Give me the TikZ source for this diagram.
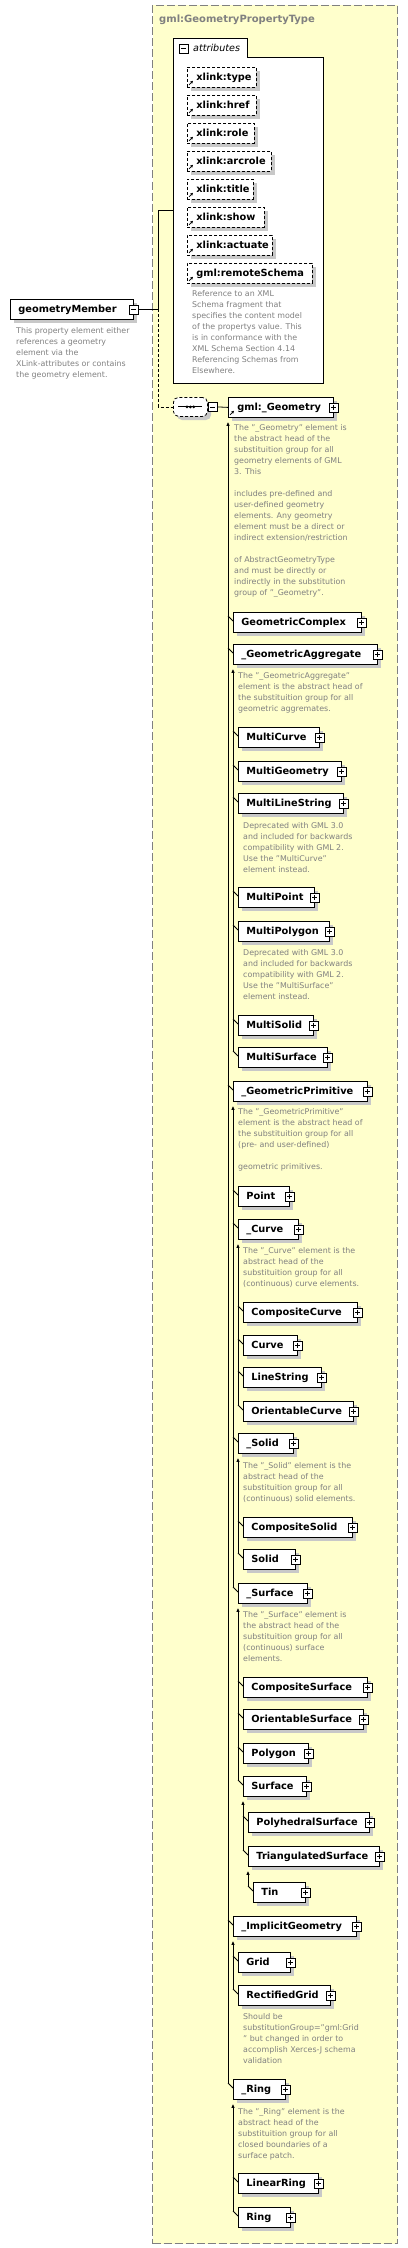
\documentclass[tikz,border=0pt]{standalone}
\usepackage{fontspec}
\setmainfont{DejaVu Sans}
\usetikzlibrary{calc,arrows.meta}
\definecolor{yel}{RGB}{255,255,204}
\definecolor{bord}{RGB}{128,128,128}
\definecolor{annotc}{RGB}{128,128,128}
\definecolor{shad}{RGB}{200,200,200}
\tikzset{
  elem/.style={draw=black, line width=0.8pt, fill=white, anchor=north west, inner xsep=0pt, inner ysep=2pt,
    minimum height=20pt, text height=7.1pt, text depth=0pt,
    font=\fontsize{9.8}{12}\selectfont\bfseries},
  optelem/.style={elem, dash pattern=on 3pt off 2pt},
  pmsq/.style={draw=black, fill=white, minimum size=9pt, inner sep=0pt, line width=0.7pt},
  plus/.style={pmsq, path picture={\draw[line width=0.7pt]
      ([xshift=2pt]path picture bounding box.west) -- ([xshift=-2pt]path picture bounding box.east)
      ([yshift=-2pt]path picture bounding box.north) -- ([yshift=2pt]path picture bounding box.south);}},
  minus/.style={pmsq, path picture={\draw[line width=0.7pt]
      ([xshift=2pt]path picture bounding box.west) -- ([xshift=-2pt]path picture bounding box.east);}},
  conn/.style={draw=black, line width=0.8pt},
  subln/.style={conn, -{Latex[length=4pt,width=3.5pt]}},
  refar/.style={line width=0.7pt, solid, -{Stealth[length=3pt,width=3pt]}},
  annot/.style={anchor=north west, inner sep=0pt, align=left, text=annotc,
    font=\fontsize{7.9}{11}\selectfont},
}
\newcommand\el[6][plus]{%
  \pgfmathsetmacro\elw{#5-#3}%
  \fill[shad] (#3+4,#4+4) rectangle (#5+4,#4+24);
  \node[elem] (#2) at (#3,#4) {\makebox[\elw pt][l]{\hspace{8pt}#6}};
  \node[#1] (#2pm) at (#2.east) {};
}
\newcommand\refarrow[1]{\draw[refar] ($(#1.south west)+(2,-3)$) -- ($(#1.south west)+(6,-7)$);}
\newcommand\att[4]{%
  \pgfmathsetmacro\elw{#3-187}%
  \fill[shad] (191,#2+4) rectangle (#3+4,#2+24);
  \node[optelem] (#1) at (187,#2) {\makebox[\elw pt][l]{\hspace{9pt}#4}};
  \refarrow{#1}
}
\newcommand\ann[4]{\node[annot] (#1) at ($(#2,#3)+(0,-3.4)$) {#4};}
\newcommand\stub[1]{\draw[conn] ($(#1.north west)+(-5,4)$) -- ($(#1.north west)+(0,9)$);}
\newcommand\subl[2]{\draw[subln] ($(#2.north west)+(-5,4)$) -- ($(#1.south west)+(0,4)$);}
\begin{document}
\begin{tikzpicture}[x=1pt,y=-1pt]
\useasboundingbox (0,0) rectangle (407,2248);
% complex type region
\node[draw=bord, dash pattern=on 8pt off 3pt, line width=1pt, fill=yel, minimum width=245pt,
  minimum height=2238pt, anchor=north west, inner sep=0pt] (ptype) at (152,5) {};
\node[anchor=base west, inner sep=0pt, text=bord, font=\fontsize{10}{12}\selectfont\bfseries]
  (title) at (159,22.6) {gml:GeometryPropertyType};
% attributes container
\node[inner sep=0pt, minimum width=150pt, minimum height=345pt, anchor=north west] (attr) at (173,38) {};
\draw[line width=0.8pt, fill=white] (attr.south west) -- (attr.north west) -- ($(attr.north west)+(74,0)$)
  -- ($(attr.north west)+(74,19)$) -- ($(attr.north east)+(0,19)$) -- (attr.south east) -- cycle;
\node[minus] (attrpm) at (183.5,48.5) {};
\node[anchor=base west, inner sep=0pt, font=\fontsize{9.6}{12}\selectfont\itshape] (attrlbl) at (193,52) {attributes};
\att{a1}{67}{256}{xlink:type}
\att{a2}{95}{256}{xlink:href}
\att{a3}{123}{254}{xlink:role}
\att{a4}{151}{271}{xlink:arcrole}
\att{a5}{179}{253}{xlink:title}
\att{a6}{207}{264}{xlink:show}
\att{a7}{235}{272}{xlink:actuate}
\att{a8}{263}{312}{gml:remoteSchema}
\ann{a8d}{192}{294}{Reference to an XML\\Schema fragment that\\specifies the content model\\of the propertys value. This\\is in conformance with the\\XML Schema Section 4.14\\Referencing Schemas from\\Elsewhere.}
% root element
\el[minus]{gm}{10}{299}{133}{geometryMember}
\ann{gmd}{16}{331}{This property element either\\references a geometry\\element via the\\XLink-attributes or contains\\the geometry element.}
% sequence compositor
\fill[shad, rounded corners=5pt] (177,401) rectangle (211,420);
\node[draw=black, dash pattern=on 3pt off 2pt, fill=white, rounded corners=5pt, minimum width=34pt,
  minimum height=19pt, anchor=north west, inner sep=0pt, line width=0.8pt] (seq) at (173,397) {};
\draw[line width=0.9pt] ($(seq.center)+(-12,0)$) -- ($(seq.center)+(12,0)$);
\fill ($(seq.center)+(-3.4,0)$) circle (1.5pt) (seq.center) circle (1.5pt) ($(seq.center)+(3.4,0)$) circle (1.5pt);
\node[minus, anchor=west] (seqpm) at (seq.east) {};
\coordinate (br) at (158,0);
\draw[conn] (gmpm.east) -- (br |- gmpm.east) |- (attr.west);
\draw[conn, dash pattern=on 3pt off 2pt] (br |- gmpm.east) |- (seq.west);
% gml:_Geometry
\el{geo}{228}{397}{333}{\hspace{1pt}gml:\_Geometry}
\refarrow{geo}
\draw[conn] (seqpm.east) -- (geo.west);
\ann{geod}{234}{428}{The "\_Geometry" element is\\the abstract head of the\\substituition group for all\\geometry elements of GML\\3. This\\[11pt]includes pre-defined and\\user-defined geometry\\elements. Any geometry\\element must be a direct or\\indirect extension/restriction\\[11pt]of AbstractGeometryType\\and must be directly or\\indirectly in the substitution\\group of "\_Geometry".}
\el{gcx}{233}{612}{361}{GeometricComplex}
\el{gag}{233}{644}{377}{\_GeometricAggregate}
\ann{gagd}{238}{676}{The "\_GeometricAggregate"\\element is the abstract head of\\the substituition group for all\\geometric aggremates.}
\el{mcu}{238}{727}{319}{MultiCurve}
\el{mge}{238}{761}{341}{MultiGeometry}
\el{mls}{238}{793}{343}{MultiLineString}
\ann{mlsd}{243}{826}{Deprecated with GML 3.0\\and included for backwards\\compatibility with GML 2.\\Use the "MultiCurve"\\element instead.}
\el{mpt}{238}{887}{314}{MultiPoint}
\el{mpo}{238}{921}{329}{MultiPolygon}
\ann{mpod}{243}{953}{Deprecated with GML 3.0\\and included for backwards\\compatibility with GML 2.\\Use the "MultiSurface"\\element instead.}
\el{mso}{238}{1015}{313}{MultiSolid}
\el{msu}{238}{1047}{327}{MultiSurface}
\el{gpr}{233}{1081}{367}{\_GeometricPrimitive}
\ann{gprd}{238}{1112}{The "\_GeometricPrimitive"\\element is the abstract head of\\the substituition group for all\\(pre- and user-defined)\\[11pt]geometric primitives.}
\el{pnt}{238}{1186}{289}{Point}
\el{cur}{238}{1219}{298}{\_Curve}
\ann{curd}{243}{1251}{The "\_Curve" element is the\\abstract head of the\\substituition group for all\\(continuous) curve elements.}
\el{ccu}{243}{1302}{357}{CompositeCurve}
\el{crv}{243}{1335}{297}{Curve}
\el{lst}{243}{1367}{321}{LineString}
\el{ocu}{243}{1401}{353}{OrientableCurve}
\el{sol}{238}{1433}{293}{\_Solid}
\ann{sold}{243}{1466}{The "\_Solid" element is the\\abstract head of the\\substituition group for all\\(continuous) solid elements.}
\el{cso}{243}{1517}{352}{CompositeSolid}
\el{sld}{243}{1549}{295}{Solid}
\el{sur}{238}{1583}{307}{\_Surface}
\ann{surd}{243}{1615}{The "\_Surface" element is\\the abstract head of the\\substituition group for all\\(continuous) surface\\elements.}
\el{csu}{243}{1677}{367}{CompositeSurface}
\el{osu}{243}{1709}{363}{OrientableSurface}
\el{pol}{243}{1743}{308}{Polygon}
\el{srf}{243}{1776}{306}{Surface}
\el{phs}{248}{1812}{369}{PolyhedralSurface}
\el{tsu}{248}{1846}{379}{TriangulatedSurface}
\el{tin}{253}{1882}{305}{Tin}
\el{igm}{233}{1916}{356}{\_ImplicitGeometry}
\el{grd}{238}{1952}{290}{Grid}
\el{rgr}{238}{1985}{330}{RectifiedGrid}
\ann{rgrd}{243}{2017}{Should be\\substitutionGroup="gml:Grid\\" but changed in order to\\accomplish Xerces-J schema\\validation}
\el{rng}{233}{2079}{285}{\_Ring}
\ann{rngd}{238}{2112}{The "\_Ring" element is the\\abstract head of the\\substituition group for all\\closed boundaries of a\\surface patch.}
\el{lrg}{238}{2173}{318}{LinearRing}
\el{rin}{238}{2207}{290}{Ring}
% substitution group lines
\subl{geo}{rng}
\subl{gag}{msu}
\subl{gpr}{sur}
\subl{cur}{ocu}
\subl{sol}{sld}
\subl{sur}{srf}
\subl{srf}{tsu}
\subl{tsu}{tin}
\subl{igm}{rgr}
\subl{rng}{rin}
% stubs
\foreach \c in {gcx,gag,gpr,igm,rng,mcu,mge,mls,mpt,mpo,mso,msu,pnt,cur,sol,sur,ccu,crv,lst,ocu,cso,sld,csu,osu,pol,srf,phs,tsu,tin,grd,rgr,lrg,rin}{\stub{\c}}
\end{tikzpicture}
\end{document}
